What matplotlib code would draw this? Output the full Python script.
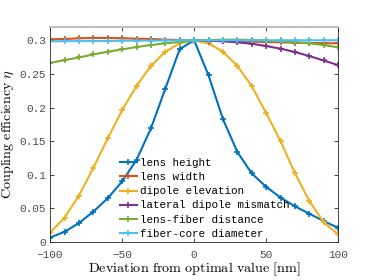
import numpy as np
import matplotlib
matplotlib.use('Agg')
import matplotlib.pyplot as plt

plt.rcParams['mathtext.fontset'] = 'cm'

# Data
dev = np.arange(-100, 101, 10)
dev_pos = np.arange(0, 101, 10)

lens_height = [0.0065, 0.015, 0.028, 0.045, 0.065, 0.090, 0.122, 0.169, 0.228, 0.287, 0.300,
               0.248, 0.183, 0.134, 0.102, 0.082, 0.066, 0.053, 0.042, 0.031, 0.021]
lens_width = [0.3015, 0.302, 0.303, 0.3035, 0.3035, 0.303, 0.3025, 0.302, 0.301, 0.3005, 0.300,
              0.2995, 0.299, 0.2985, 0.298, 0.2975, 0.297, 0.2965, 0.296, 0.2958, 0.2955]
dipole_elevation = [0.014, 0.036, 0.069, 0.110, 0.154, 0.196, 0.232, 0.262, 0.283, 0.2955, 0.300,
                    0.2955, 0.283, 0.262, 0.232, 0.192, 0.150, 0.1025, 0.061, 0.029, 0.0115]
lateral_mismatch = [0.300, 0.2995, 0.2985, 0.297, 0.295, 0.2915, 0.2876, 0.2826, 0.2766, 0.270, 0.263]
lens_fiber = [0.2665, 0.2705, 0.2745, 0.279, 0.283, 0.2865, 0.290, 0.293, 0.2955, 0.2975, 0.2995,
              0.3005, 0.301, 0.301, 0.3005, 0.2995, 0.2985, 0.297, 0.2955, 0.293, 0.2895]
fiber_core = [0.2985, 0.2986, 0.2988, 0.299, 0.2991, 0.2993, 0.2995, 0.2996, 0.2998, 0.2999, 0.300,
              0.300, 0.300, 0.300, 0.300, 0.300, 0.300, 0.300, 0.300, 0.300, 0.300]

colors = ['#0072BD', '#D95319', '#EDB120', '#7E2F8E', '#77AC30', '#4DBEEE']

fig = plt.figure(figsize=(3.74, 2.8), dpi=100)
ax = fig.add_axes([0.134, 0.136, 0.770, 0.768])

kw = dict(marker='+', markersize=5, markeredgewidth=1.2, linewidth=1.5)
ax.plot(dev, lens_height, color=colors[0], label='lens height', **kw)
ax.plot(dev, lens_width, color=colors[1], label='lens width', **kw)
ax.plot(dev, dipole_elevation, color=colors[2], label='dipole elevation', **kw)
ax.plot(dev_pos, lateral_mismatch, color=colors[3], label='lateral dipole mismatch', **kw)
ax.plot(dev, lens_fiber, color=colors[4], label='lens-fiber distance', **kw)
ax.plot(dev, fiber_core, color=colors[5], label='fiber-core diameter', **kw)

ax.set_xlim(-100, 100)
ax.set_ylim(0, 0.32)
ax.set_xticks([-100, -50, 0, 50, 100])
ax.set_yticks([0, 0.05, 0.1, 0.15, 0.2, 0.25, 0.3])
ax.set_yticklabels(['0', '0.05', '0.1', '0.15', '0.2', '0.25', '0.3'])

for lab in ax.get_xticklabels() + ax.get_yticklabels():
    lab.set_family('Liberation Mono')
    lab.set_fontsize(8)
ax.tick_params(direction='in', top=True, right=True, length=3, width=0.6,
               colors='#262626', labelcolor='#4d4d4d')
ax.tick_params(axis='y', pad=3)
ax.tick_params(axis='x', pad=6)
for side in ['left', 'right', 'bottom']:
    ax.spines[side].set_color('#262626')
    ax.spines[side].set_linewidth(0.6)
ax.spines['top'].set_color('#bfbfbf')
ax.spines['top'].set_linewidth(1.5)

ax.set_xlabel(r'$\mathrm{Deviation\ from\ optimal\ value\ [nm]}$', fontsize=10.2,
              va='center', ha='center')
ax.set_ylabel(r'$\mathrm{Coupling\ efficiency}\ \eta$', fontsize=10.2,
              va='center', ha='center')
ax.xaxis.set_label_coords(0.5, -0.128)
ax.yaxis.set_label_coords(-0.146, 0.5)

leg = ax.legend(loc='upper left', bbox_to_anchor=(0.227, 0.41), frameon=False,
                prop={'family': 'Liberation Mono', 'size': 7.8},
                handlelength=1.6, handletextpad=0.3, labelspacing=0.38,
                borderaxespad=0)

fig.savefig('out.png', dpi=100)
